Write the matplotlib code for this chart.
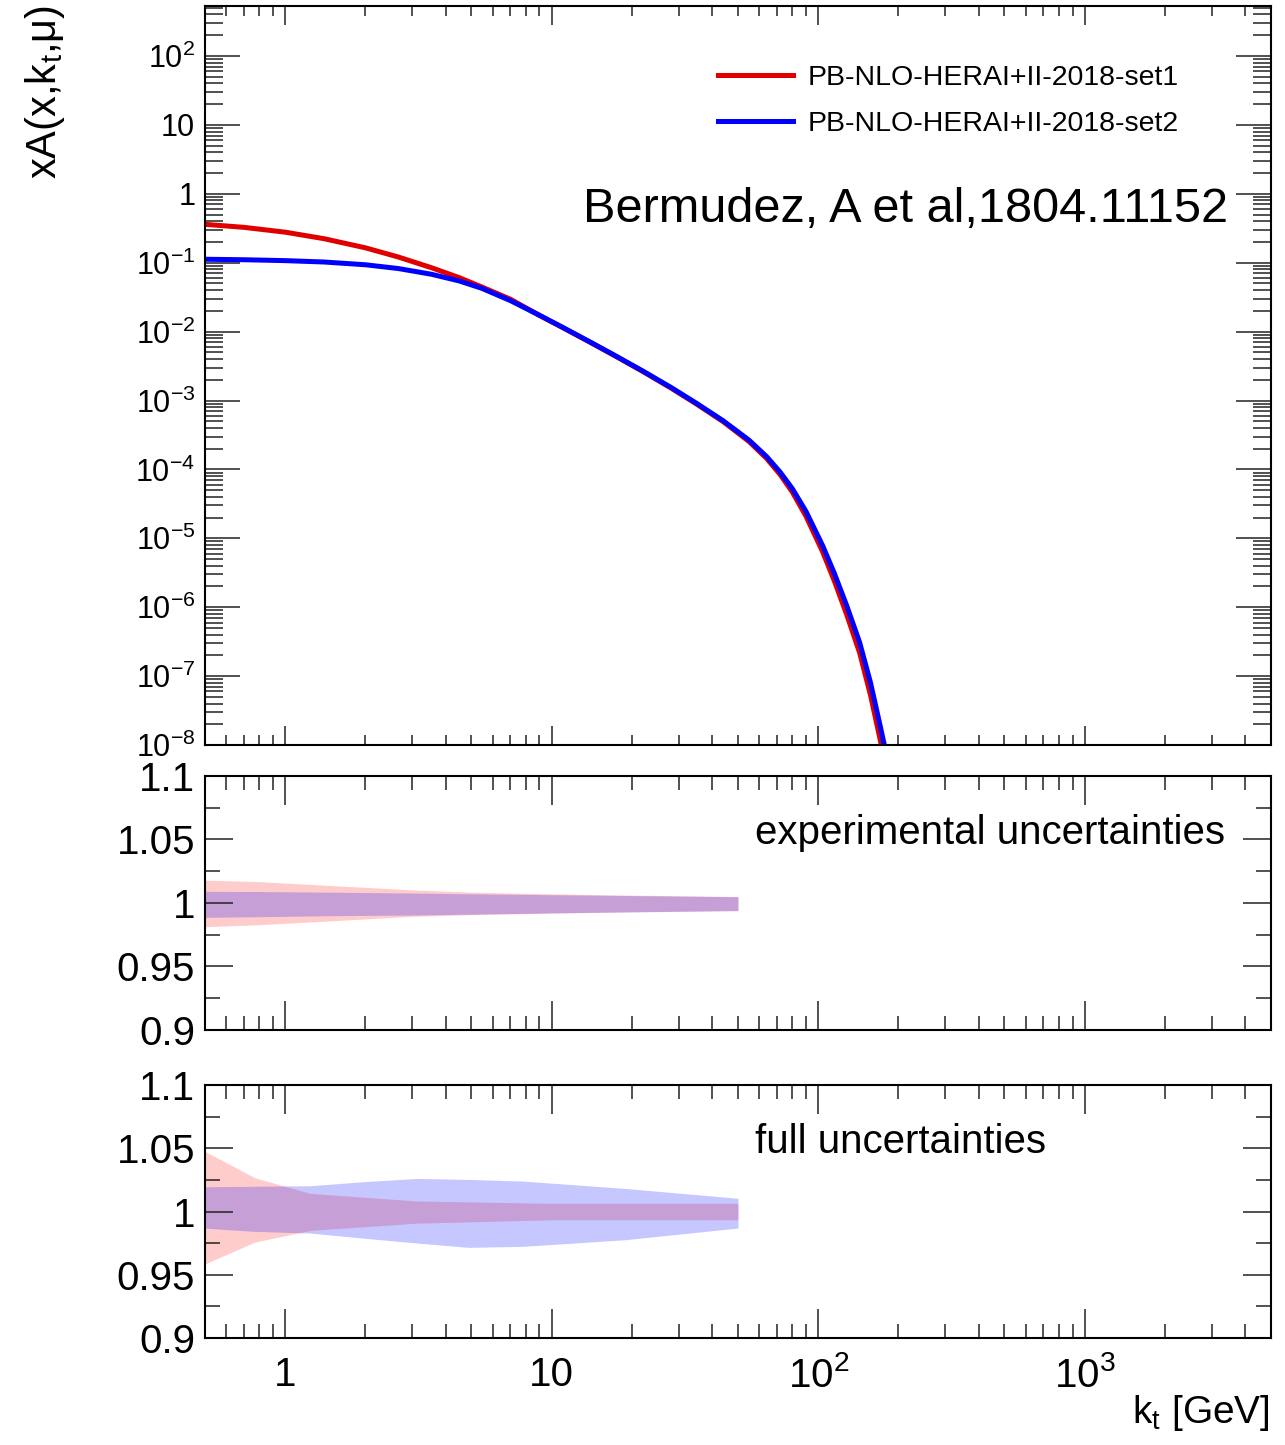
import numpy as np
import matplotlib
matplotlib.use("Agg")
import matplotlib.pyplot as plt
from matplotlib.ticker import (LogLocator, NullFormatter, MultipleLocator,
                               FixedLocator, FixedFormatter, FuncFormatter)

plt.rcParams['font.family'] = ['Liberation Sans', 'DejaVu Sans']
plt.rcParams['mathtext.fontset'] = 'custom'
plt.rcParams['mathtext.rm'] = 'Liberation Sans'
plt.rcParams['mathtext.it'] = 'Liberation Sans:italic'
plt.rcParams['mathtext.default'] = 'regular'

# kt points [GeV] and log10 of xA(x,kt,mu) for the two PB sets
kt = [0.5, 0.7, 1.0, 1.4, 2.0, 2.66, 3.54, 4.5, 5.45, 7, 9, 11, 13.8, 17, 22,
      28, 35, 44, 55, 64, 72, 80, 90, 104, 115, 128, 143, 157, 171, 185]
set1_log10 = [-0.443, -0.487, -0.557, -0.652, -0.784, -0.918, -1.073, -1.217,
              -1.35, -1.53, -1.765, -1.942, -2.146, -2.337, -2.58, -2.818,
              -3.053, -3.307, -3.595, -3.84, -4.075, -4.33, -4.68, -5.2, -5.62,
              -6.11, -6.66, -7.27, -7.93, -8.55]
set2_log10 = [-0.95, -0.957, -0.97, -0.99, -1.03, -1.085, -1.168, -1.265,
              -1.37, -1.55, -1.763, -1.939, -2.142, -2.332, -2.573, -2.809,
              -3.042, -3.294, -3.575, -3.813, -4.04, -4.28, -4.61, -5.11, -5.51,
              -5.98, -6.51, -7.09, -7.73, -8.34]

# relative experimental uncertainties
kt_exp = [0.5, 0.8, 1.5, 3, 5, 10, 20, 50]
set1_exp_up = [0.018, 0.0168, 0.0137, 0.0103, 0.0085, 0.0072, 0.0062, 0.005]
set1_exp_dn = [0.0187, 0.0171, 0.014, 0.0105, 0.0092, 0.008, 0.007, 0.006]
set2_exp_up = [0.0092, 0.009, 0.0085, 0.0078, 0.0072, 0.0065, 0.0058, 0.005]
set2_exp_dn = [0.0113, 0.0108, 0.01, 0.0095, 0.0088, 0.0078, 0.007, 0.006]

# relative full uncertainties
kt_full1 = [0.5, 0.77, 1.24, 3.1, 10, 50]
set1_full_up = [0.0476, 0.0267, 0.0144, 0.0084, 0.0065, 0.0065]
set1_full_dn = [0.0414, 0.0241, 0.0149, 0.0092, 0.0065, 0.0065]
kt_full2 = [0.5, 0.77, 1.24, 1.96, 3.13, 4.87, 7.8, 18.8, 50]
set2_full_up = [0.0196, 0.020, 0.0204, 0.0236, 0.0262, 0.0254, 0.0241, 0.0183, 0.0105]
set2_full_dn = [0.0131, 0.0157, 0.017, 0.021, 0.0249, 0.0283, 0.0275, 0.0223, 0.013]

labels = ['PB-NLO-HERAI+II-2018-set1', 'PB-NLO-HERAI+II-2018-set2']
red = '#e00000'
blue = '#0000ff'

y_major = 10.0 ** np.arange(-8, 3)
y_labels = ['$10^{-8}$', '$10^{-7}$', '$10^{-6}$', '$10^{-5}$', '$10^{-4}$',
            '$10^{-3}$', '$10^{-2}$', '$10^{-1}$', '1', '10', '$10^{2}$']
x_major = [1, 10, 100, 1000]
x_labels = ['1', '10', '$10^{2}$', '$10^{3}$']

fig = plt.figure(figsize=(12.85, 14.45), dpi=100)
ax1 = fig.add_axes([0.1595, 0.4844, 0.8296, 0.5114])
ax2 = fig.add_axes([0.1595, 0.2872, 0.8296, 0.1758], sharex=ax1)
ax3 = fig.add_axes([0.1595, 0.0740, 0.8296, 0.1751], sharex=ax1)

# --- top: the TMD distributions
k = np.array(kt)
ax1.plot(k, 10.0 ** np.array(set1_log10), color=red, lw=3.6, label=labels[0])
ax1.plot(k, 10.0 ** np.array(set2_log10), color=blue, lw=3.6, label=labels[1])
ax1.set_xscale('log')
ax1.set_yscale('log')
ax1.set_xlim(0.5, 5000)
ax1.set_ylim(1e-8, 5.3e2)
ax1.yaxis.set_major_locator(FixedLocator(y_major))
ax1.yaxis.set_major_formatter(FixedFormatter(y_labels))
ax1.yaxis.set_minor_locator(LogLocator(base=10, subs=np.arange(2, 10), numticks=30))
ax1.yaxis.set_minor_formatter(NullFormatter())

ax1.legend(loc='upper left', bbox_to_anchor=(0.481, 0.9206), frameon=False,
           fontsize=20.5, handlelength=2.65, handletextpad=0.5,
           labelspacing=0.72, borderpad=0, borderaxespad=0)
ax1.text(0.9597, 0.7253, 'Bermudez, A et al,1804.11152', transform=ax1.transAxes,
         ha='right', va='center', fontsize=35)

# --- ratio panels
def bands(ax, k1, up1, dn1, k2, up2, dn2):
    k1 = np.array(k1)
    k2 = np.array(k2)
    ax.fill_between(k1, 1 + np.array(up1), 1 - np.array(dn1),
                    color=(1, 0, 0), alpha=0.2, lw=0)
    ax.fill_between(k2, 1 + np.array(up2), 1 - np.array(dn2),
                    color=(0, 0, 1), alpha=0.22, lw=0)
    ax.set_ylim(0.9, 1.1)
    ax.yaxis.set_major_locator(MultipleLocator(0.05))
    ax.yaxis.set_minor_locator(MultipleLocator(0.025))
    ax.yaxis.set_major_formatter(FuncFormatter(lambda v, p: '%g' % round(v, 3)))

bands(ax2, kt_exp, set1_exp_up, set1_exp_dn, kt_exp, set2_exp_up, set2_exp_dn)
bands(ax3, kt_full1, set1_full_up, set1_full_dn, kt_full2, set2_full_up, set2_full_dn)

ax2.text(0.516, 0.776, 'experimental uncertainties', transform=ax2.transAxes,
         ha='left', va='center', fontsize=29)
ax3.text(0.516, 0.775, 'full uncertainties', transform=ax3.transAxes,
         ha='left', va='center', fontsize=29)

# shared x axis ticks
ax3.xaxis.set_major_locator(FixedLocator(x_major))
ax3.xaxis.set_major_formatter(FixedFormatter(x_labels))
ax3.xaxis.set_minor_locator(LogLocator(base=10, subs=np.arange(2, 10), numticks=30))
ax3.xaxis.set_minor_formatter(NullFormatter())

for ax in (ax1, ax2, ax3):
    for s in ax.spines.values():
        s.set_linewidth(1.5)
    ax.tick_params(which='both', direction='in', top=True, right=True,
                   width=1.1, color='#222222')

ax1.tick_params(axis='y', which='major', length=25, labelsize=22, pad=7)
ax1.tick_params(axis='y', which='minor', length=13)
ax1.tick_params(axis='x', which='major', length=14, labelbottom=False)
ax1.tick_params(axis='x', which='minor', length=7)
for ax in (ax2, ax3):
    ax.tick_params(axis='y', which='major', length=20, labelsize=29, pad=7)
    ax.tick_params(axis='y', which='minor', length=11)
    ax.tick_params(axis='x', which='major', length=21)
    ax.tick_params(axis='x', which='minor', length=10)
ax2.tick_params(axis='x', labelbottom=False)
ax3.tick_params(axis='x', which='major', labelsize=29, pad=13)

fig.text(45 / 1285, 1 - 5 / 1445, 'xA(x,k$_{t}$,μ)', rotation=90,
         ha='center', va='top', fontsize=30)
fig.text(1270 / 1285, 1 - 1413 / 1445, 'k$_{t}$ [GeV]', ha='right',
         va='center', fontsize=28)

fig.savefig('out.png', dpi=100)
